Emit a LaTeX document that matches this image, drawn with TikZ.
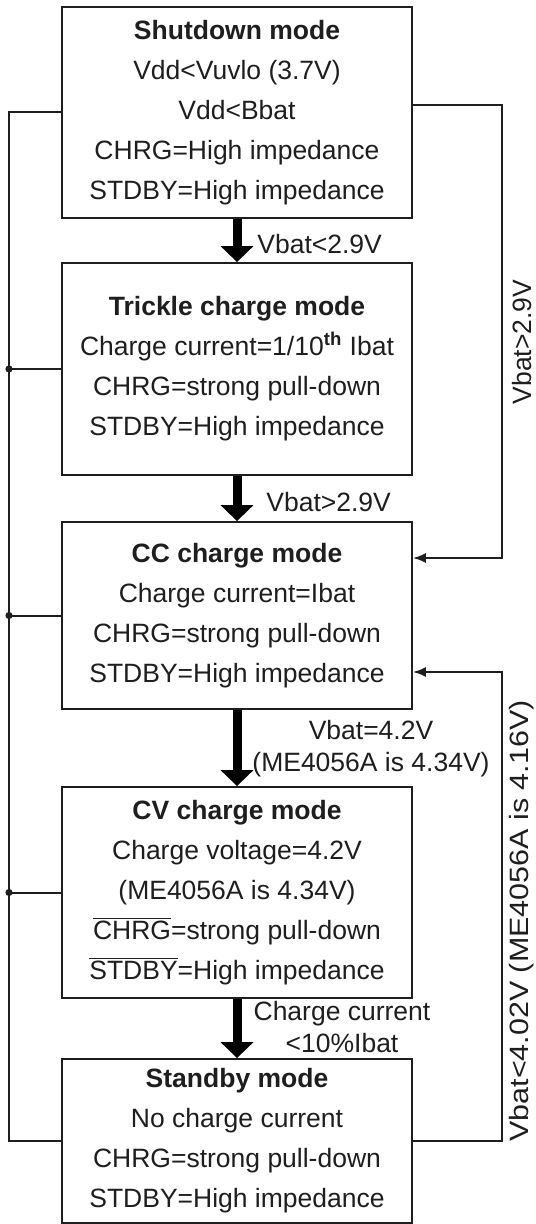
\documentclass[tikz,border=0pt]{standalone}
\usepackage{fontspec}
\setmainfont{Liberation Sans}
\usetikzlibrary{arrows.meta,calc}
\definecolor{inkgray}{RGB}{30,30,30}

\newcommand{\ovbar}[1]{$\overline{\hbox{#1}}$}

\begin{document}
\begin{tikzpicture}[x=0.5pt, y=-0.5pt, >={Latex[length=6.5pt, width=5pt]},
    modebox/.style={draw=inkgray, line width=0.9pt, minimum width=175pt, inner sep=0pt,
        align=center, text=inkgray, font=\fontsize{13.25}{20}\selectfont},
    bigarrow/.style={-{Triangle[length=8pt, width=16pt]}, line width=4.5pt, black},
    wire/.style={inkgray, line width=1pt},
    cond/.style={inner sep=0pt, text=inkgray, font=\fontsize{13.25}{16}\selectfont}]

\useasboundingbox (0,0) rectangle (535,1224);

% mode boxes
\node[modebox, minimum height=105.5pt] (shut) at (237,112.5)
    {\textbf{Shutdown mode}\\ Vdd<Vuvlo (3.7V)\\ Vdd<Bbat\\ CHRG=High impedance\\ STDBY=High impedance};
\node[modebox, minimum height=106pt] (trickle) at (237,369)
    {\textbf{Trickle charge mode}\\ Charge current=1/10\textsuperscript{\textbf{th}} Ibat\\ CHRG=strong pull-down\\ STDBY=High impedance};
\node[modebox, minimum height=93.5pt] (cc) at (237,615.5)
    {\textbf{CC charge mode}\\ Charge current=Ibat\\ CHRG=strong pull-down\\ STDBY=High impedance};
\node[modebox, minimum height=105.5pt] (cv) at (237,892.5)
    {\textbf{CV charge mode}\\ Charge voltage=4.2V\\ (ME4056A is 4.34V)\\ \ovbar{CHRG}=strong pull-down\\ \ovbar{STDBY}=High impedance};
\node[modebox, minimum height=82pt] (stby) at (237,1141)
    {\textbf{Standby mode}\\ No charge current\\ CHRG=strong pull-down\\ STDBY=High impedance};

% forward steps
\draw[bigarrow] (shut.south) -- (trickle.north);
\draw[bigarrow] (trickle.south) -- (cc.north);
\draw[bigarrow] (cc.south) -- (cv.north);
\draw[bigarrow] (cv.south) -- (stby.north);

\node[cond, anchor=west] (c12) at (257,244) {Vbat<2.9V};
\node[cond, anchor=west] (c23) at (266,502) {Vbat>2.9V};
\node[cond, align=center] (c34) at (371,749) {Vbat=4.2V\\(ME4056A is 4.34V)};
\node[cond, align=center] (c45) at (342,1027) {Charge current\\<10\%Ibat};

% left bus
\coordinate (lx) at (9,0);
\draw[wire] (shut.west) -- (shut.west -| lx) -- (stby.west -| lx) -- (stby.west);
\foreach \m in {trickle,cc,cv} {
    \draw[wire] (\m.west -| lx) -- (\m.west);
    \fill[inkgray] (\m.west -| lx) circle (1.8pt);
}

% right returns into CC mode
\coordinate (rx) at (502,0);
\coordinate (s1) at ($(shut.east)+(0,-7.5)$);
\coordinate (c1) at ($(cc.east)+(0,-57.5)$);
\coordinate (c2) at ($(cc.east)+(0,56.5)$);
\draw[wire, ->] (s1) -- (s1 -| rx) -- (c1 -| rx) -- (c1);
\draw[wire, ->] (stby.east) -- (stby.east -| rx) -- (c2 -| rx) -- (c2);

\node[cond, rotate=90] (up1) at (522,342) {Vbat>2.9V};
\node[cond, rotate=90] (up2) at (522,921) {\scalebox{1.15}[1]{Vbat<4.02V (ME4056A is 4.16V)}};

\end{tikzpicture}
\end{document}
